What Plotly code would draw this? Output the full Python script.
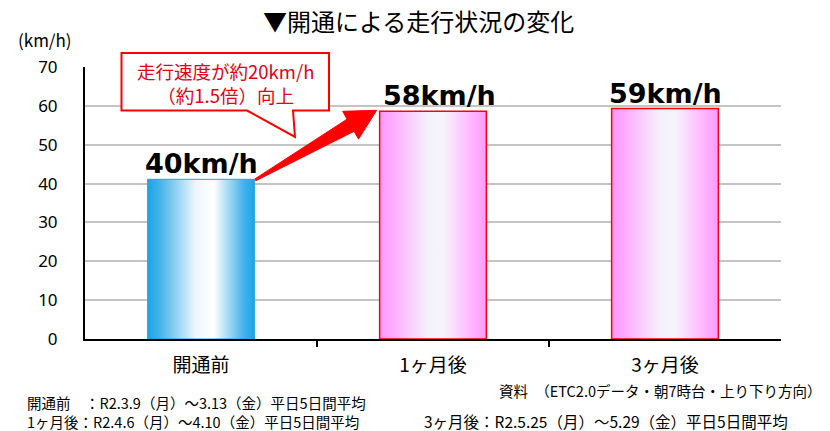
import math
import plotly.graph_objects as go

# ---- data ----
categories = ["開通前", "1ヶ月後", "3ヶ月後"]
speeds = [41.1, 58.6, 59.3]
speed_labels = ["40km/h", "58km/h", "59km/h"]
y_ticks = [0, 10, 20, 30, 40, 50, 60, 70]

title_text = "▼開通による走行状況の変化"
unit_text = "(km/h)"
callout_lines = ["走行速度が約20km/h", "（約1.5倍）向上"]
source_text = "資料　（ETC2.0データ・朝7時台・上り下り方向）"
note_lines = [
    "開通前　：R2.3.9（月）～3.13（金）平日5日間平均",
    "1ヶ月後：R2.4.6（月）～4.10（金）平日5日間平均",
    "3ヶ月後：R2.5.25（月）～5.29（金）平日5日間平均",
]

# ---- styling ----
W, H = 830, 431
ML, MR, MT, MB = 85, 49, 67, 92
PW, PH = W - ML - MR, H - MT - MB
XR = [-0.5, 2.5]
YR = [0, 70]
BW = 0.46
JP = "Noto Sans CJK JP"

blue_scale = [[0, "#1BA5E6"], [0.1, "#3DB1EA"], [0.45, "#EEF6FD"], [0.62, "#FFFFFF"],
              [0.9, "#45B3EA"], [1, "#1BA5E6"]]
pink_scale = [[0, "#FF99FF"], [0.1, "#FFA6FF"], [0.45, "#F3F1FA"], [0.6, "#F6F3FB"],
              [0.9, "#FFADFF"], [1, "#FF99FF"]]
fills = [blue_scale, pink_scale, pink_scale]
edges = ["#1BA5E6", "#FF0000", "#FF0000"]
edge_w = [1, 1.5, 1.5]


def x2px(x):
    return ML + (x - XR[0]) / (XR[1] - XR[0]) * PW


def y2py(y):
    return MT + PH - (y - YR[0]) / (YR[1] - YR[0]) * PH


def px2x(px):
    return XR[0] + (px - ML) / PW * (XR[1] - XR[0])


def py2y(py):
    return YR[0] + (MT + PH - py) / PH * (YR[1] - YR[0])


def px2paper(px):
    return (px - ML) / PW


def py2paper(py):
    return (MT + PH - py) / PH


fig = go.Figure()

for i, (cat, v) in enumerate(zip(categories, speeds)):
    x0, x1 = i - BW / 2, i + BW / 2
    fig.add_trace(go.Scatter(
        x=[x0, x1, x1, x0, x0], y=[0, 0, v, v, 0],
        mode="lines", fill="toself",
        fillgradient=dict(type="horizontal", colorscale=fills[i]),
        line=dict(color=edges[i], width=edge_w[i]),
        hoverinfo="skip", showlegend=False, name=cat,
    ))

# value labels
label_shift = [0, 6, 0]
for i, (v, lab) in enumerate(zip(speeds, speed_labels)):
    fig.add_annotation(x=i, y=v, text=f"<b>{lab}</b>", showarrow=False,
                       yanchor="bottom", xanchor="center", xshift=label_shift[i], yshift=-2,
                       font=dict(family="DejaVu Sans", size=27, color="#000000"))

# big red arrow from bar 1 to bar 2
tx, ty = x2px(0 + BW / 2) + 1, y2py(speeds[0]) + 0.5
hx, hy = x2px(1 - BW / 2) - 3, y2py(speeds[1]) - 1
dx, dy = hx - tx, hy - ty
L = math.hypot(dx, dy)
ux, uy = dx / L, dy / L
nx, ny = -uy, ux
head_len, head_half, shaft_half, tail_half = 30, 16, 7, 1
bx, by = hx - head_len * ux, hy - head_len * uy
pts = [
    (tx - tail_half * nx, ty - tail_half * ny),
    (bx - shaft_half * nx, by - shaft_half * ny),
    (bx - head_half * nx, by - head_half * ny),
    (hx, hy),
    (bx + head_half * nx, by + head_half * ny),
    (bx + shaft_half * nx, by + shaft_half * ny),
    (tx + tail_half * nx, ty + tail_half * ny),
]
path = "M " + " L ".join(f"{px2x(a):.5f},{py2y(b):.5f}" for a, b in pts) + " Z"
fig.add_shape(type="path", path=path, xref="x", yref="y",
              fillcolor="#FF0000", line=dict(color="#FF0000", width=1), layer="above")

# callout box with tail
bl, bt, br, bb = 121.5, 53, 329, 110.5
tail = [(293, bb), (295, 137), (247, bb)]
cpts = [(bl, bt), (br, bt), (br, bb)] + tail + [(bl, bb)]
cpath = "M " + " L ".join(f"{px2paper(a):.5f},{py2paper(b):.5f}" for a, b in cpts) + " Z"
fig.add_shape(type="path", path=cpath, xref="paper", yref="paper",
              fillcolor="#FFFFFF", line=dict(color="#FF0000", width=2), layer="above")
fig.add_annotation(x=px2paper((bl + br) / 2), y=py2paper(83), xref="paper", yref="paper",
                   text="<br>".join(callout_lines), showarrow=False, align="center",
                   xanchor="center", yanchor="middle",
                   font=dict(family=JP, size=18.5, color="#E60012"))

# title, unit, notes
fig.add_annotation(x=px2paper(418), y=py2paper(21), xref="paper", yref="paper",
                   text=title_text, showarrow=False, xanchor="center", yanchor="middle",
                   font=dict(family=JP, size=24, color="#000000"))
fig.add_annotation(x=px2paper(45), y=py2paper(40), xref="paper", yref="paper",
                   text=unit_text, showarrow=False, xanchor="center", yanchor="middle",
                   font=dict(family=JP, size=17, color="#000000"))
fig.add_annotation(x=px2paper(497), y=py2paper(390), xref="paper", yref="paper",
                   text=source_text, showarrow=False, xanchor="left", yanchor="middle",
                   font=dict(family=JP, size=14.5, color="#000000"))
fig.add_annotation(x=px2paper(25), y=py2paper(412), xref="paper", yref="paper",
                   text="<br>".join(note_lines[:2]), showarrow=False, align="left",
                   xanchor="left", yanchor="middle",
                   font=dict(family=JP, size=14.5, color="#000000"))
fig.add_annotation(x=px2paper(422), y=py2paper(421), xref="paper", yref="paper",
                   text=note_lines[2], showarrow=False, xanchor="left", yanchor="middle",
                   font=dict(family=JP, size=15.5, color="#000000"))

fig.update_layout(
    width=W, height=H,
    margin=dict(l=ML, r=MR, t=MT, b=MB, pad=0),
    paper_bgcolor="#FFFFFF", plot_bgcolor="#FFFFFF",
    showlegend=False,
    xaxis=dict(range=XR, tickmode="array", tickvals=list(range(len(categories))),
               ticktext=categories, ticks="", showgrid=False, zeroline=False,
               showline=True, linecolor="#000000", linewidth=2,
               tickfont=dict(family=JP, size=19, color="#000000"),
               ticklabelstandoff=8,
               minor=dict(tickmode="array", tickvals=[0.5, 1.5], ticks="outside",
                          ticklen=6, tickwidth=2, tickcolor="#000000", showgrid=False),
               fixedrange=True),
    yaxis=dict(range=YR, tickmode="array", tickvals=y_ticks, ticks="",
               showgrid=True, gridcolor="#C4C4C4", gridwidth=2, zeroline=False,
               showline=True, linecolor="#000000", linewidth=2,
               tickfont=dict(family="Noto Sans", size=17, color="#000000"),
               ticklabelstandoff=22, fixedrange=True),
)

fig.write_html("out.html", config={"displayModeBar": False},
               post_script="document.body.style.margin='0';document.body.style.overflow='hidden';")
